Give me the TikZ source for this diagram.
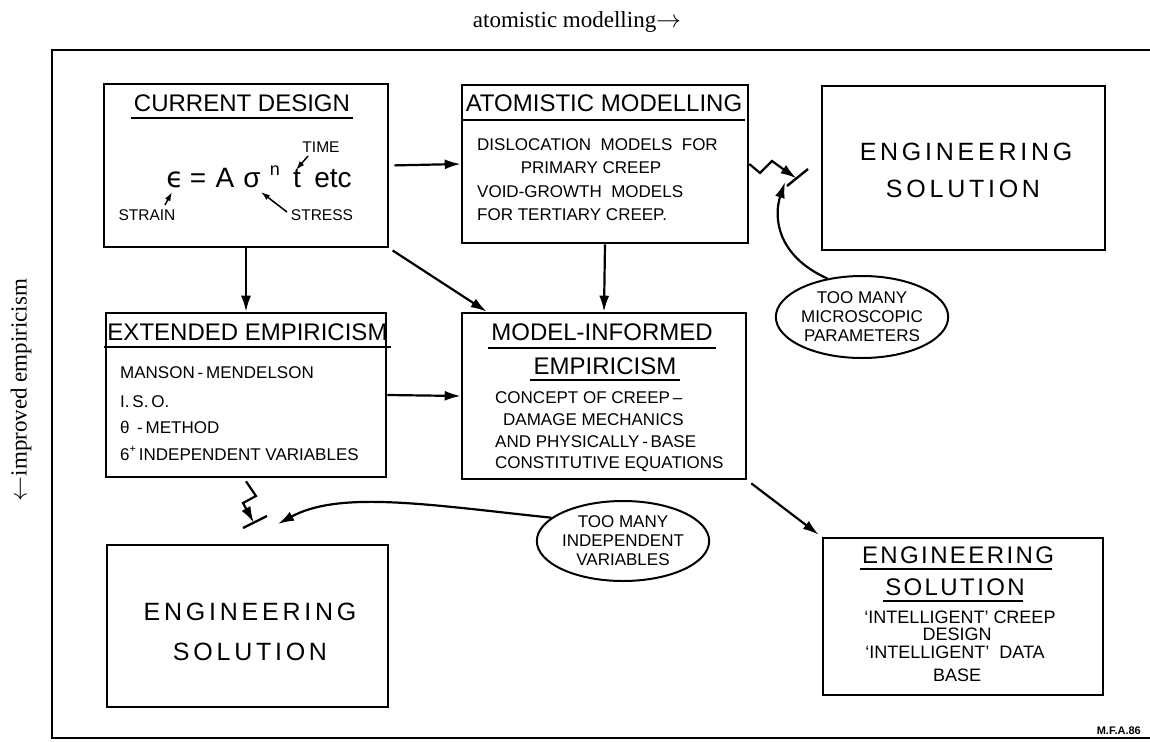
\documentclass[tikz,border=0pt]{standalone}
\usepackage{fontspec}
\setmainfont{Liberation Sans}
\newfontfamily\seriffont{Liberation Serif}
\newfontfamily\greekfont{DejaVu Sans}
\newfontfamily\widefont[LetterSpace=15]{Liberation Sans}
\newfontfamily\midfont[LetterSpace=10]{Liberation Sans}
\usetikzlibrary{arrows.meta,shapes.geometric,calc}

\tikzset{
  frameline/.style={line width=1.8pt},
  box/.style={draw, line width=2.6pt, inner sep=0pt},
  title/.style={inner sep=0pt, anchor=base, font=\fontsize{24}{26}\selectfont},
  body/.style={inner sep=0pt, anchor=base west, font=\fontsize{17}{20}\selectfont},
  bodyc/.style={inner sep=0pt, anchor=base, font=\fontsize{17}{20}\selectfont},
  eqn/.style={inner sep=0pt, anchor=base, font=\fontsize{28}{30}\selectfont},
  tag/.style={inner sep=0pt, anchor=base, font=\fontsize{15.5}{17}\selectfont},
  bigword/.style={inner sep=0pt, anchor=base, font=\widefont\fontsize{25}{28}\selectfont},
  uline/.style={line width=2pt},
  conn/.style={line width=2.2pt, -{Latex[length=16pt,width=10pt]}},
  thin conn/.style={line width=1.5pt, -{Latex[length=9pt,width=6pt]}},
  blockbar/.style={line width=2.4pt},
  note/.style={draw, ellipse, line width=2pt, inner sep=0pt, align=center,
    minimum width=170pt, minimum height=82pt, font=\fontsize{17}{19}\selectfont},
  axislabel/.style={inner sep=0pt, font=\seriffont\fontsize{23}{25}\selectfont}
}

\begin{document}
\begin{tikzpicture}[x=1pt,y=-1pt]
\useasboundingbox (0,0) rectangle (1150,741);

% outer frame and axis labels
\draw[frameline] (1160,50) -- (52,50) -- (52,738) -- (1160,738);
\node[axislabel] (topaxis) at (577,22) {atomistic modelling$\rightarrow$};
\node[axislabel, rotate=90] (leftaxis) at (21,390) {$\leftarrow$improved empiricism};

% boxes
\node[box, minimum width=284pt, minimum height=163pt] (cd) at (246,165.5) {};
\node[box, minimum width=286pt, minimum height=158pt] (am) at (605,164) {};
\node[box, minimum width=283pt, minimum height=164pt] (est) at (963.5,168) {};
\node[box, minimum width=280pt, minimum height=164pt] (ee) at (246,395) {};
\node[box, minimum width=284pt, minimum height=166pt] (mi) at (604,396) {};
\node[box, minimum width=281pt, minimum height=162pt] (esl) at (247.5,626) {};
\node[box, minimum width=280pt, minimum height=157pt] (esr) at (963,616.5) {};

% current design
\node[title] (cdT) at (242,112) {CURRENT DESIGN};
\draw[uline] ([xshift=-3pt,yshift=-6pt]cdT.base west) -- ([xshift=3pt,yshift=-6pt]cdT.base east);
\node[eqn] (eps) at (175,187) {\greekfont ϵ};
\node[eqn] (eq) at (198,187) {=};
\node[eqn] (aa) at (225,187) {A};
\node[eqn] (sig) at (252,187) {σ};
\node[inner sep=0pt, anchor=base, font=\fontsize{18}{20}\selectfont] (nn) at (275,175) {n};
\node[eqn] (tt) at (297,187) {t};
\node[eqn] (etc) at (333,187) {etc};
\node[tag] (time) at (321,152) {TIME};
\node[tag] (strain) at (147,220) {STRAIN};
\node[tag] (stress) at (322,220) {STRESS};
\draw[thin conn] ([xshift=18pt,yshift=15pt]strain.base) -- ([xshift=-3pt,yshift=-5pt]eps.base);
\draw[thin conn] ([xshift=-13pt,yshift=-4pt]time.base) -- ([xshift=-1pt,yshift=17pt]tt.base);
\draw[thin conn] ([xshift=-35pt,yshift=8pt]stress.base) -- ([xshift=9pt,yshift=-5pt]sig.base);

% atomistic modelling
\node[title] (amT) at (604,112) {ATOMISTIC MODELLING};
\draw[uline] ([xshift=-3pt,yshift=-8pt]amT.base west) -- ([xshift=3pt,yshift=-8pt]amT.base east);
\node[body] (am1) at (477,150) {DISLOCATION\ \ MODELS\ \ FOR};
\node[bodyc] (am2) at (591,173) {PRIMARY CREEP};
\node[body] (am3) at (477,197) {VOID-GROWTH\ \ MODELS};
\node[body] (am4) at (477,220) {FOR TERTIARY CREEP.};

% engineering solution, top right
\node[bigword] (estA) at (966,160) {ENGINEERING};
\node[bigword] (estB) at (963,197) {SOLUTION};

% extended empiricism
\node[title] (eeT) at (247.5,340) {EXTENDED EMPIRICISM};
\draw[uline] ([xshift=-3pt,yshift=-7pt]eeT.base west) -- ([xshift=3pt,yshift=-7pt]eeT.base east);
\node[body] (ee1) at (120,378) {MANSON\,-\,MENDELSON};
\node[body] (ee2) at (120,407) {I.\,S.\,O.};
\node[body] (ee3) at (120,433) {θ\ \,-\,METHOD};
\node[body] (ee4) at (120,460) {6\raisebox{0.45em}{\fontsize{11}{11}\selectfont+}\,INDEPENDENT VARIABLES};

% model-informed empiricism
\node[title] (miT1) at (602,340) {MODEL-INFORMED};
\draw[uline] ([xshift=-3pt,yshift=-8pt]miT1.base west) -- ([xshift=3pt,yshift=-8pt]miT1.base east);
\node[title] (miT2) at (605,374) {EMPIRICISM};
\draw[uline] ([xshift=-3pt,yshift=-6pt]miT2.base west) -- ([xshift=3pt,yshift=-6pt]miT2.base east);
\node[body] (mi1) at (495,403) {CONCEPT OF CREEP\,–};
\node[body] (mi2) at (503,425) {DAMAGE MECHANICS};
\node[body] (mi3) at (495,447) {AND PHYSICALLY\,-\,BASE};
\node[body] (mi4) at (495,468) {CONSTITUTIVE EQUATIONS};

% engineering solution, bottom left
\node[bigword] (eslA) at (250,620) {ENGINEERING};
\node[bigword] (eslB) at (250,660) {SOLUTION};

% engineering solution, bottom right
\node[inner sep=0pt, anchor=base, font=\midfont\fontsize{24}{26}\selectfont] (esrA) at (958,563) {ENGINEERING};
\draw[uline] ([xshift=-2pt,yshift=-6pt]esrA.base west) -- ([xshift=-2pt,yshift=-6pt]esrA.base east);
\node[inner sep=0pt, anchor=base, font=\midfont\fontsize{24}{26}\selectfont] (esrB) at (955,595) {SOLUTION};
\draw[uline] ([xshift=-2pt,yshift=-6pt]esrB.base west) -- ([xshift=-2pt,yshift=-6pt]esrB.base east);
\node[bodyc, font=\fontsize{18}{20}\selectfont] (esr1) at (960,623) {‘INTELLIGENT’ CREEP};
\node[bodyc, font=\fontsize{18}{20}\selectfont] (esr2) at (957,640) {DESIGN};
\node[bodyc, font=\fontsize{18}{20}\selectfont] (esr3) at (955,658) {‘INTELLIGENT’\ \ DATA};
\node[bodyc, font=\fontsize{18}{20}\selectfont] (esr4) at (957,681) {BASE};

% ellipses
\node[note] (micro) at (862,317) {TOO MANY\\MICROSCOPIC\\PARAMETERS};
\node[note, minimum width=156pt, minimum height=80pt] (indep) at (623,541) {TOO MANY\\INDEPENDENT\\VARIABLES};

% main connectors
\draw[conn, shorten <=5pt] (cd.east) -- (am.west);
\draw[conn] (cd.south) -- (ee.north);
\draw[conn, shorten <=4pt] (cd.south east) -- ([xshift=26pt]mi.north west);
\draw[conn] (am.south) -- (mi.north);
\draw[conn] (ee.east) -- (mi.west);
\draw[conn, shorten <=5pt] (mi.south east) -- ([xshift=-3pt,yshift=2pt]esr.north west);

% blocked routes
\coordinate (barA1) at (787,186);
\coordinate (barA2) at (808,169);
\draw[blockbar] (barA1) -- (barA2);
\draw[conn, line join=miter] (am.east) -- (760,173) -- (772,161) -- (783,169) -- ($(barA1)!0.45!(barA2)$);
\draw[conn] (micro.132) .. controls (775,255) and (774,215) .. ([xshift=-2pt,yshift=4pt]barA1);

\coordinate (barB1) at (243,528);
\coordinate (barB2) at (267,516);
\draw[blockbar] (barB1) -- (barB2);
\draw[conn, line join=miter] ([yshift=-3pt]ee.south) -- (256,496) -- (243,503) -- ($(barB1)!0.45!(barB2)$);
\draw[conn] (indep.162) .. controls (430,505) and (340,490) .. ([xshift=11pt,yshift=-8pt]barB2);

% drawing reference mark
\node[inner sep=0pt, anchor=base east, font=\bfseries\fontsize{11}{12}\selectfont] (mark) at (1141,734) {M.F.A.86};
\end{tikzpicture}
\end{document}
